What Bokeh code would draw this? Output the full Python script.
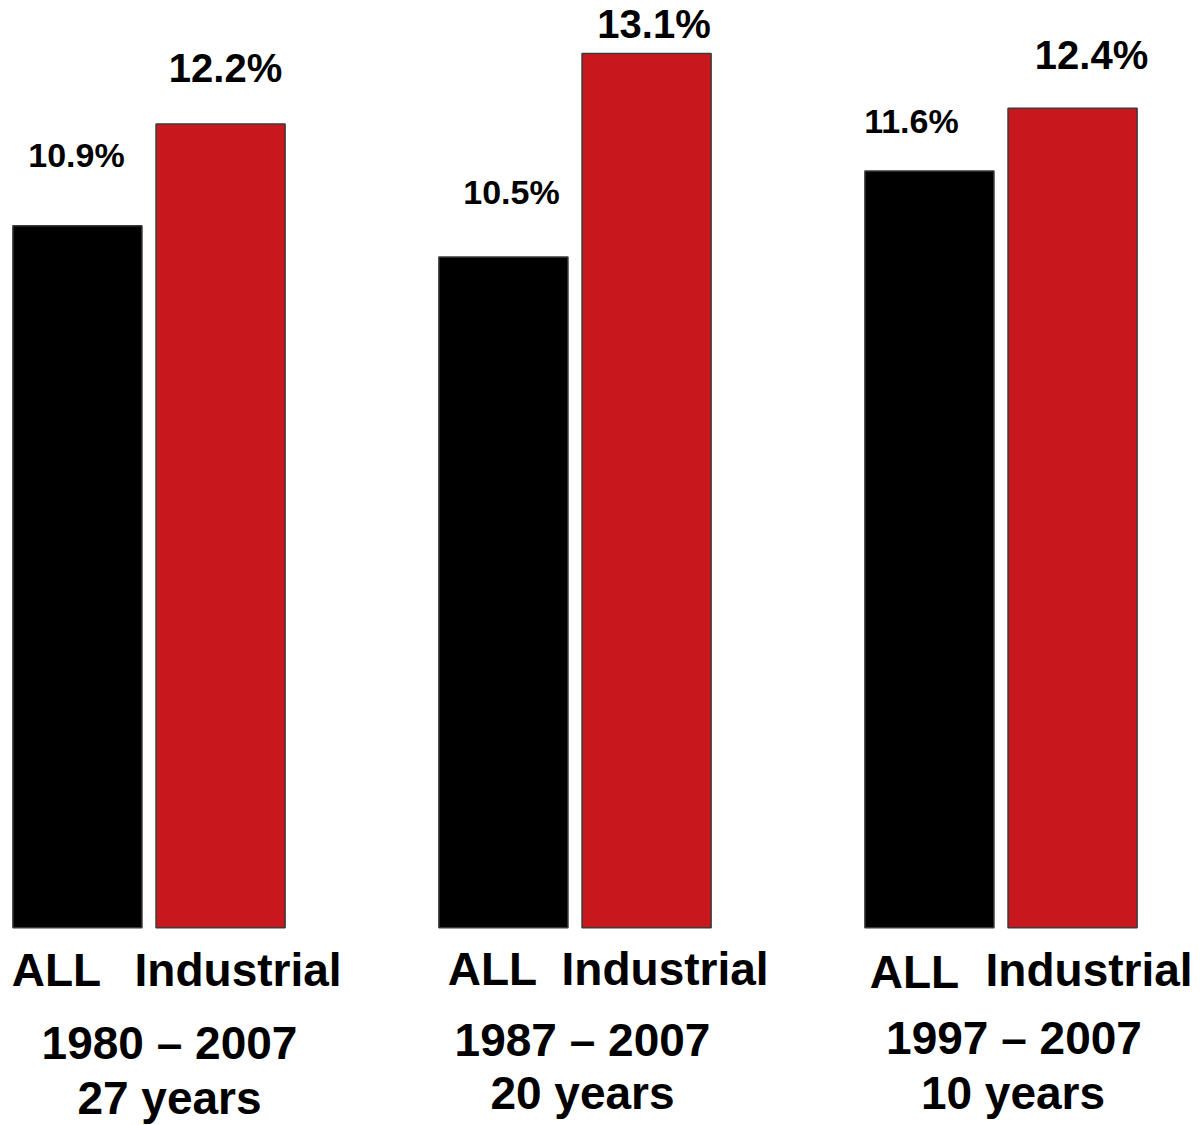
from bokeh.plotting import figure
from bokeh.models import Range1d, ColumnDataSource
from bokeh.core.properties import value
from bokeh.embed import file_html
from bokeh.resources import INLINE

# ---- data ----
series = ["ALL", "Industrial"]
periods = ["1980 \u2013 2007", "1987 \u2013 2007", "1997 \u2013 2007"]
spans = ["27 years", "20 years", "10 years"]
all_vals = [10.9, 10.5, 11.6]
ind_vals = [12.2, 13.1, 12.4]

# ---- style ----
BASE = 1.93          # visual baseline of the bars
DODGE = 0.168
BAR_W = 0.303
RED = "#C8181E"
EDGE = "#3a3a3a"
FONT = value("Liberation Sans")

groups = list(range(len(periods)))

p = figure(width=1200, height=1125, output_backend="svg", toolbar_location=None,
           x_range=Range1d(-0.3486, 2.4683), y_range=Range1d(-0.597, 13.777),
           min_border=0, outline_line_color=None, background_fill_color="white",
           border_fill_color="white")
p.axis.visible = False
p.grid.visible = False

x_all = [g - DODGE for g in groups]
x_ind = [g + DODGE for g in groups]

p.vbar(x=x_all, top=all_vals, bottom=BASE, width=BAR_W, fill_color="black",
       line_color=EDGE, line_width=1.5)
p.vbar(x=x_ind, top=ind_vals, bottom=BASE, width=BAR_W, fill_color=RED,
       line_color=EDGE, line_width=1.5)

# value labels
src_all = ColumnDataSource(dict(x=x_all, y=all_vals, t=[f"{v:.1f}%" for v in all_vals],
                                dx=[-1, 8, -18], dy=[-71, -65, -50]))
src_ind = ColumnDataSource(dict(x=x_ind, y=ind_vals, t=[f"{v:.1f}%" for v in ind_vals],
                                dx=[5, 7.5, 19], dy=[-56, -29, -53]))
p.text(x="x", y="y", text="t", x_offset="dx", y_offset="dy", source=src_all,
       text_font=FONT, text_font_style="bold", text_font_size="34px",
       text_align="center", text_baseline="alphabetic", text_color="black")
p.text(x="x", y="y", text="t", x_offset="dx", y_offset="dy", source=src_ind,
       text_font=FONT, text_font_style="bold", text_font_size="40px",
       text_align="center", text_baseline="alphabetic", text_color="black")

# category labels
cat_all = ColumnDataSource(dict(x=x_all, y=[BASE] * 3, t=[series[0]] * 3,
                                dx=[-21, -11, -15], dy=[42, 41, 44]))
cat_ind = ColumnDataSource(dict(x=x_ind, y=[BASE] * 3, t=[series[1]] * 3,
                                dx=[17.5, 18.5, 16.5], dy=[42, 41, 42]))
for s in (cat_all, cat_ind):
    p.text(x="x", y="y", text="t", x_offset="dx", y_offset="dy", source=s,
           text_font=FONT, text_font_style="bold", text_font_size="46px",
           text_align="center", text_baseline="alphabetic", text_color="black")

# period labels
per_src = ColumnDataSource(dict(x=groups, y=[BASE] * 3, t=periods,
                                dx=[20.5, 7.5, 13], dy=[115, 112, 110]))
span_src = ColumnDataSource(dict(x=groups, y=[BASE] * 3, t=spans,
                                 dx=[20.5, 7.5, 12], dy=[170, 165, 165]))
for s in (per_src, span_src):
    p.text(x="x", y="y", text="t", x_offset="dx", y_offset="dy", source=s,
           text_font=FONT, text_font_style="bold", text_font_size="46px",
           text_align="center", text_baseline="alphabetic", text_color="black")

open("out.html", "w").write(file_html(p, INLINE))
